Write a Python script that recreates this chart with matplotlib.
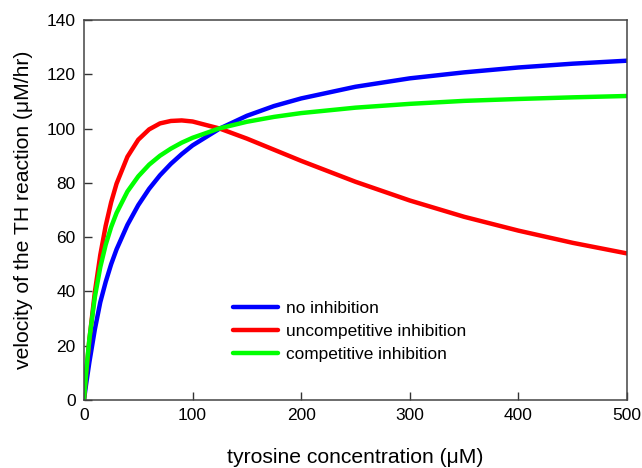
import matplotlib
matplotlib.use('Agg')
import matplotlib.pyplot as plt

plt.rcParams['font.family'] = ['Liberation Sans', 'DejaVu Sans']

# tyrosine concentration (uM)
tyr = [0, 2, 5, 10, 15, 20, 25, 30, 40, 50, 60, 70, 80, 90, 100,
       125, 150, 175, 200, 250, 300, 350, 400, 450, 500]

# TH reaction velocity (uM/hr)
v_none = [0, 5.9, 14.0, 26.0, 36.0, 43.5, 50.0, 55.5, 64.5, 71.8, 77.8, 82.8,
          87.0, 90.6, 93.8, 100.0, 104.7, 108.3, 111.1, 115.4, 118.5, 120.7,
          122.5, 123.9, 125.0]
v_uncomp = [0, 9.6, 22.3, 39.7, 53.4, 64.2, 72.8, 79.7, 89.6, 95.9, 99.7, 101.9,
            102.8, 103.0, 102.6, 100.0, 96.3, 92.2, 88.1, 80.4, 73.5, 67.5,
            62.4, 57.9, 54.0]
v_comp = [0, 10.2, 22.6, 37.9, 48.9, 57.2, 63.7, 68.9, 76.8, 82.4, 86.7, 90.0,
          92.6, 94.8, 96.6, 100.1, 102.5, 104.3, 105.7, 107.7, 109.1, 110.2,
          110.9, 111.5, 112.0]

fig = plt.figure(figsize=(6.42, 4.68), dpi=100)
ax = fig.add_axes([0.1308, 0.1453, 0.8458, 0.812])

ax.plot(tyr, v_none, color='#0000ff', lw=3.2, label='no inhibition', solid_capstyle='round')
ax.plot(tyr, v_uncomp, color='#ff0000', lw=3.2, label='uncompetitive inhibition', solid_capstyle='round')
ax.plot(tyr, v_comp, color='#00ff00', lw=3.2, label='competitive inhibition', solid_capstyle='round')

ax.set_xlim(0, 500)
ax.set_ylim(0, 140)
ax.set_xticks([0, 100, 200, 300, 400, 500])
ax.set_yticks([0, 20, 40, 60, 80, 100, 120, 140])
ax.tick_params(direction='in', length=6, width=1, color='#333333',
               labelsize=12.5, pad=6, top=False, right=False)
for s in ax.spines.values():
    s.set_color('#444444')
    s.set_linewidth(1.1)

ax.set_xlabel('tyrosine concentration (\u03bcM)', fontsize=15.2, labelpad=18)
ax.set_ylabel('velocity of the TH reaction (\u03bcM/hr)', fontsize=15.2, labelpad=10)

ax.legend(loc='upper left', bbox_to_anchor=(0.2744, 0.26), frameon=False,
          fontsize=12.4, handlelength=2.6, handletextpad=0.5, labelspacing=0.45,
          borderpad=0, borderaxespad=0)

fig.savefig('out.png', dpi=100)
